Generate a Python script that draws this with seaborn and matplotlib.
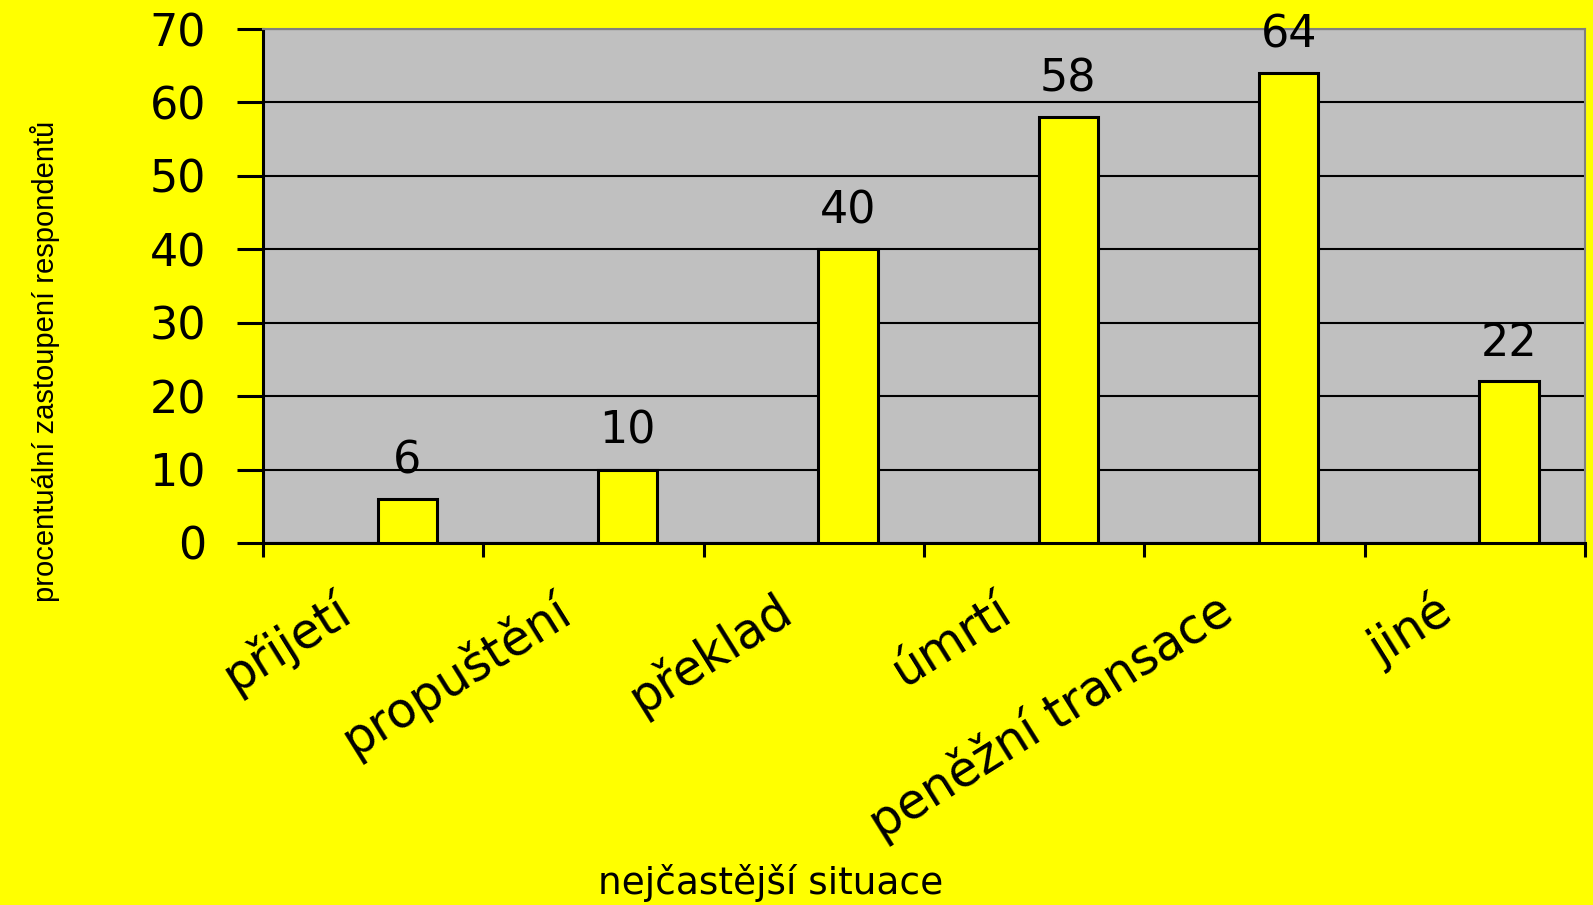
import seaborn as sns
import matplotlib.pyplot as plt
from matplotlib import font_manager
from matplotlib.transforms import ScaledTranslation

# data
categories = ['přijetí', 'propuštění', 'překlad', 'úmrtí', 'peněžní transace', 'jiné']
values = [6, 10, 40, 58, 64, 22]
value_labels = ['6', '10', '40', '58', '64', '22']
y_ticks = [0, 10, 20, 30, 40, 50, 60, 70]

sns.set_style('white')
plt.rcParams['font.family'] = ['DejaVu Sans']
plt.rcParams.update({'text.color': 'black', 'axes.labelcolor': 'black',
                     'xtick.color': 'black', 'ytick.color': 'black'})

names = {f.name for f in font_manager.fontManager.ttflist}
narrow = 'Liberation Sans Narrow' if 'Liberation Sans Narrow' in names else 'Liberation Sans'

yellow = '#FFFF00'
fig = plt.figure(figsize=(15.93, 9.05), dpi=100, facecolor=yellow)
ax = fig.add_axes([263 / 1593, 1 - 543 / 905, (1585 - 263) / 1593, (543 - 29) / 905])
ax.set_facecolor('#C0C0C0')

sns.barplot(x=categories, y=values, width=0.27, color=yellow, saturation=1,
            edgecolor='black', linewidth=2.2, ax=ax, zorder=3)

# bars sit right of the category centre, like the original
for p in ax.patches:
    p.set_x(p.get_x() + 0.155)

for p, lab in zip(ax.patches, value_labels):
    ax.annotate(lab, (p.get_x() + p.get_width() / 2, p.get_height()),
                xytext=(0, 12), textcoords='offset points',
                ha='center', va='bottom', fontsize=32, zorder=4)

ax.set_xlim(-0.5, 5.5)
ax.set_ylim(0, 70)
ax.set_yticks(y_ticks)
ax.tick_params(axis='y', direction='out', length=19, width=2.2, pad=22,
               labelsize=32, left=True)
ax.grid(axis='y', color='black', linewidth=1.5)
ax.set_axisbelow(True)

# category boundaries as ticks, labels in the middle
ax.set_xticks([i - 0.5 for i in range(len(categories) + 1)])
ax.set_xticklabels([])
ax.tick_params(axis='x', which='major', direction='out', length=10, width=2.2,
               bottom=True)
ax.set_xticks(range(len(categories)), minor=True)
ax.set_xticklabels(categories, minor=True, rotation=32, ha='right', va='top',
                   rotation_mode='anchor', fontsize=35)
ax.tick_params(axis='x', which='minor', length=0, pad=30)
shift = ScaledTranslation(-40 / 100, 0, fig.dpi_scale_trans)
for t in ax.get_xticklabels(minor=True):
    t.set_transform(t.get_transform() + shift)

for s in ['left', 'bottom']:
    ax.spines[s].set_color('black')
    ax.spines[s].set_linewidth(2.2)
for s in ['top', 'right']:
    ax.spines[s].set_color('#808080')
    ax.spines[s].set_linewidth(1.5)

ax.set_ylabel('procentuální zastoupení respondentů', family=[narrow, 'DejaVu Sans'],
              fontsize=21, va='center')
ax.yaxis.set_label_coords(-0.165, 0.354)
ax.set_xlabel('nejčastější situace', fontsize=27, va='baseline')
ax.xaxis.set_label_coords(0.384, -0.683)

fig.savefig('out.png', dpi=100, facecolor=yellow)
